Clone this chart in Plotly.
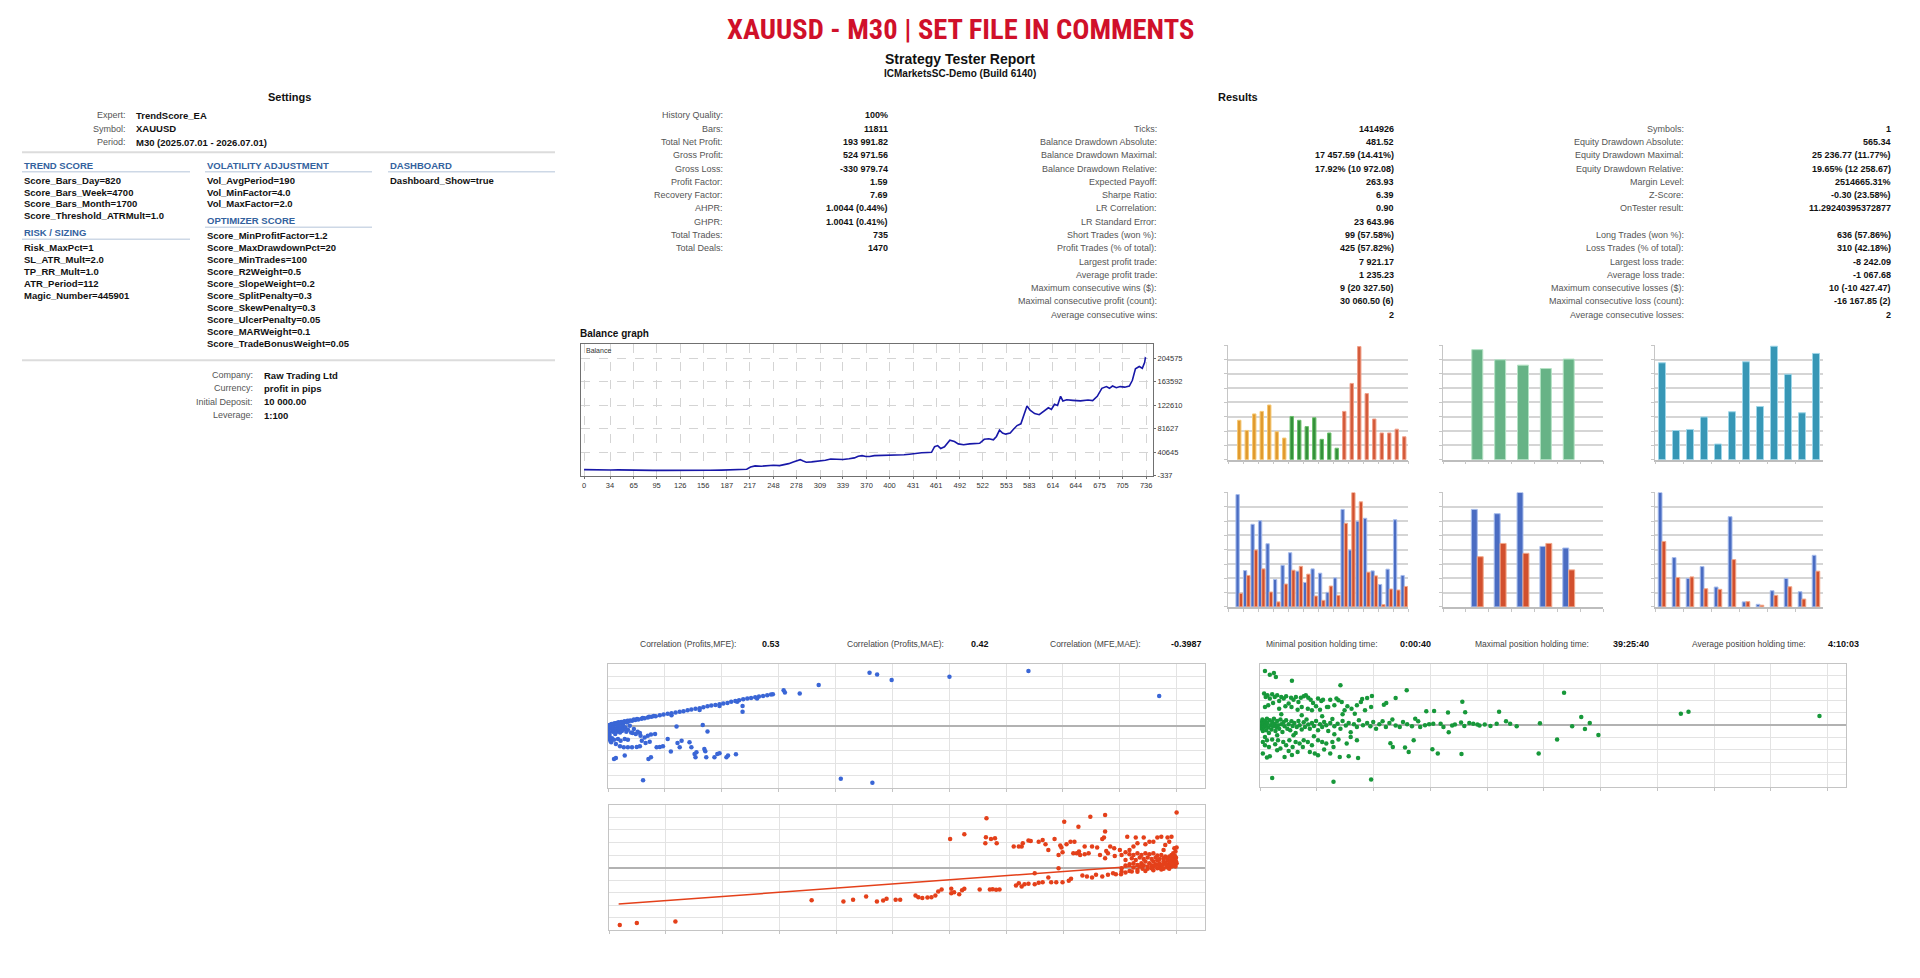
import plotly.graph_objects as go

# page offset of the plot div (default body margin) is compensated below
PAGE_W, PAGE_H = 1920, 978
OFF = 8
W, H = PAGE_W - OFF, PAGE_H - OFF
FONT = "Liberation Sans, Arial, sans-serif"
TITLE_FONT = "Liberation Sans Narrow, Roboto Condensed, Roboto, Liberation Sans, sans-serif"

# ---------------- text data ----------------
report_title = "XAUUSD - M30 | SET FILE IN COMMENTS"
report_subtitle = "Strategy Tester Report"
report_server = "ICMarketsSC-Demo (Build 6140)"

settings_head_labels = ["Expert:", "Symbol:", "Period:"]
settings_head_values = ["TrendScore_EA", "XAUUSD", "M30 (2025.07.01 - 2026.07.01)"]

trend_score_inputs = ["Score_Bars_Day=820", "Score_Bars_Week=4700", "Score_Bars_Month=1700",
                      "Score_Threshold_ATRMult=1.0"]
risk_sizing_inputs = ["Risk_MaxPct=1", "SL_ATR_Mult=2.0", "TP_RR_Mult=1.0", "ATR_Period=112",
                      "Magic_Number=445901"]
volatility_inputs = ["Vol_AvgPeriod=190", "Vol_MinFactor=4.0", "Vol_MaxFactor=2.0"]
optimizer_inputs = ["Score_MinProfitFactor=1.2", "Score_MaxDrawdownPct=20", "Score_MinTrades=100",
                    "Score_R2Weight=0.5", "Score_SlopeWeight=0.2", "Score_SplitPenalty=0.3",
                    "Score_SkewPenalty=0.3", "Score_UlcerPenalty=0.05", "Score_MARWeight=0.1",
                    "Score_TradeBonusWeight=0.05"]
dashboard_inputs = ["Dashboard_Show=true"]

account_labels = ["Company:", "Currency:", "Initial Deposit:", "Leverage:"]
account_values = ["Raw Trading Ltd", "profit in pips", "10 000.00", "1:100"]

results_left_labels = ["History Quality:", "Bars:", "Total Net Profit:", "Gross Profit:", "Gross Loss:",
                       "Profit Factor:", "Recovery Factor:", "AHPR:", "GHPR:", "Total Trades:", "Total Deals:"]
results_left_values = ["100%", "11811", "193 991.82", "524 971.56", "-330 979.74", "1.59", "7.69",
                       "1.0044 (0.44%)", "1.0041 (0.41%)", "735", "1470"]
results_mid_labels = ["Ticks:", "Balance Drawdown Absolute:", "Balance Drawdown Maximal:",
                      "Balance Drawdown Relative:", "Expected Payoff:", "Sharpe Ratio:", "LR Correlation:",
                      "LR Standard Error:", "Short Trades (won %):", "Profit Trades (% of total):",
                      "Largest profit trade:", "Average profit trade:", "Maximum consecutive wins ($):",
                      "Maximal consecutive profit (count):", "Average consecutive wins:"]
results_mid_values = ["1414926", "481.52", "17 457.59 (14.41%)", "17.92% (10 972.08)", "263.93", "6.39",
                      "0.90", "23 643.96", "99 (57.58%)", "425 (57.82%)", "7 921.17", "1 235.23",
                      "9 (20 327.50)", "30 060.50 (6)", "2"]
results_right_labels = ["Symbols:", "Equity Drawdown Absolute:", "Equity Drawdown Maximal:",
                        "Equity Drawdown Relative:", "Margin Level:", "Z-Score:", "OnTester result:", "",
                        "Long Trades (won %):", "Loss Trades (% of total):", "Largest loss trade:",
                        "Average loss trade:", "Maximum consecutive losses ($):",
                        "Maximal consecutive loss (count):", "Average consecutive losses:"]
results_right_values = ["1", "565.34", "25 236.77 (11.77%)", "19.65% (12 258.67)", "2514665.31%",
                        "-0.30 (23.58%)", "11.29240395372877", "", "636 (57.86%)", "310 (42.18%)",
                        "-8 242.09", "-1 067.68", "10 (-10 427.47)", "-16 167.85 (2)", "2"]

correlation_labels = ["Correlation (Profits,MFE):", "Correlation (Profits,MAE):", "Correlation (MFE,MAE):"]
correlation_values = ["0.53", "0.42", "-0.3987"]
holding_labels = ["Minimal position holding time:", "Maximal position holding time:",
                  "Average position holding time:"]
holding_values = ["0:00:40", "39:25:40", "4:10:03"]

# ---------------- balance graph ----------------
balance_xticks = [0, 34, 65, 95, 126, 156, 187, 217, 248, 278, 309, 339, 370, 400, 431, 461, 492,
                  522, 553, 583, 614, 644, 675, 705, 736]
balance_yticks = [-337, 40645, 81627, 122610, 163592, 204575]
balance_points = [
    (0, 10000), (8, 9600), (15, 9900), (25, 9100), (35, 9300), (45, 9700), (55, 9200), (65, 9400),
    (75, 8900), (90, 8700), (105, 8800), (120, 8600), (135, 8900), (150, 8500), (165, 8900),
    (180, 9200), (195, 9800), (205, 10300), (213, 10600), (218, 14500), (224, 16500), (232, 16000),
    (240, 17200), (248, 17800), (256, 17000), (262, 18500), (268, 20500), (274, 23500), (278, 25500),
    (283, 27500), (287, 25000), (291, 23000), (298, 23500), (308, 24500), (316, 26500), (323, 28500),
    (331, 27500), (339, 27800), (347, 29000), (354, 30500), (359, 33500), (364, 34500), (369, 33000),
    (374, 33000), (380, 34500), (388, 34800), (398, 34600), (408, 35200), (419, 36000), (426, 37000),
    (434, 38500), (442, 39500), (450, 40000), (455, 40300), (459, 50000), (463, 52000), (467, 47000),
    (472, 50000), (479, 61500), (485, 59000), (490, 55000), (497, 53500), (505, 55000), (512, 55000),
    (518, 56000), (524, 63000), (530, 64000), (536, 62000), (540, 68000), (544, 79000), (548, 74000),
    (552, 72000), (558, 74000), (562, 80000), (567, 87000), (572, 90000), (576, 105000),
    (580, 121000), (584, 114000), (590, 108000), (596, 106000), (602, 112000), (608, 118000),
    (612, 115000), (616, 124000), (620, 122000), (624, 138000), (627, 130000), (632, 132000),
    (640, 131000), (650, 130000), (660, 131500), (666, 130500), (672, 138000), (678, 152000),
    (684, 155000), (688, 152000), (692, 156000), (697, 153000), (702, 155000), (708, 154000),
    (714, 156000), (718, 166000), (722, 186000), (727, 190000), (731, 187000), (734, 197000),
    (735, 205000), (736, 203992),
]

# ---------------- histograms ----------------
hour_labels = [str(h) for h in range(24)]
weekday_labels = ["Sun", "Mon", "Tue", "Wed", "Thu", "Fri", "Sat"]
month_labels = ["Jan", "Feb", "Mar", "Apr", "May", "Jun", "Jul", "Aug", "Sep", "Oct", "Nov", "Dec"]

entry_hours = hour_labels[1:]
entries_by_hour = [31, 23, 36, 38, 43, 22, 17, 34, 31, 26, 33, 16, 21, 9,
                   38, 60, 89, 52, 32, 21, 21, 24, 18]
entry_weekdays = weekday_labels[1:6]
entries_by_weekday = [163, 148, 140, 135, 149]
entries_by_month = [93, 28, 29, 41, 15, 46, 94, 51, 109, 82, 45, 102]

profit_by_hour = [48260, 15600, 35490, 37020, 27140, 11790, 17870, 23270, 15350, 10500, 16330, 14490,
                  6260, 12460, 41870, 24440, 36780, 38070, 15470, 9640, 16210, 37450, 13510]
loss_by_hour = [5830, 13510, 24440, 16330, 6390, 2150, 9820, 15780, 17440, 14060, 4670, 2820,
                8960, 4970, 35920, 49120, 45130, 14920, 13320, 980, 7680, 7250, 8780]
profit_by_weekday = [120580, 115270, 141440, 74790, 72840]
loss_by_weekday = [62060, 78500, 66300, 78500, 45790]
profit_by_month = [130240, 56170, 32400, 45910, 22630, 102730, 5700, 2930, 18400, 32400, 17260, 58770]
loss_by_month = [74560, 33540, 34190, 20680, 20020, 53890, 6020, 1950, 13190, 22950, 8950, 40700]

# ---------------- scatter: profit vs MFE ----------------
mfe_points = [
    (25, 0), (63, 96), (100, 144), (126, 192), (164, 192), (200, 240), (250, 290), (300, 340), (350, 380),
    (400, 430), (450, 480), (500, 530), (580, 580), (650, 670), (760, 720), (860, 820), (960, 910),
    (1060, 1010), (1160, 1100), (1260, 1200), (1380, 1300), (1510, 1390), (1640, 1540), (1760, 1630),
    (1890, 1730), (2010, 1820), (2140, 1920), (2270, 2020), (2390, 2110), (2520, 2260), (2640, 2350),
    (2770, 2450), (2900, 2540), (3020, 2690), (3150, 2830), (3270, 2930), (3400, 3020), (3530, 3120),
    (3650, 3220), (3780, 3310), (3900, 3460), (4030, 3600), (4150, 3700), (4280, 3840), (4410, 3940),
    (4530, 4030), (4660, 4130), (4780, 4220), (4910, 4320), (5040, 4420), (5160, 4510), (5220, 4560),
    (2010, 1540), (2900, 2300), (3530, 2880), (4090, 3460), (4720, 3940),
    (80, 150), (120, 250), (180, 300), (220, 380), (280, 420), (330, 500), (420, 560), (520, 640),
    (620, 720), (700, 780), (820, 900), (920, 980), (1100, 1120), (1300, 1320), (1450, 1420),
    (40, 60), (150, 100), (260, 200), (380, 300), (480, 380), (600, 480),
    (25, -240), (25, -580), (40, -960), (50, -1340), (60, -1730), (25, -1920), (75, -2160),
    (100, -100), (126, -480), (150, -860), (176, -240), (200, -720), (230, -1200), (250, -380),
    (280, -860), (315, -100), (350, -580), (380, -960), (400, -240), (440, -770), (480, 0),
    (500, -480), (550, -240), (580, -860), (630, -580), (690, 0), (730, -960), (780, -1060),
    (820, -480), (880, -1200), (940, -860), (1010, -1060), (1030, -1440), (126, -1820), (190, -2020),
    (315, -1920), (400, -2160), (530, -1920), (630, -2020), (100, -2400), (250, -2640), (380, -2980),
    (500, -3120), (630, -3120), (760, -3120), (910, -3070), (1010, -2980), (1070, -2160),
    (1160, -1680), (1260, -1440), (1360, -1250), (1490, -1200), (1320, -2300), (1190, -2500),
    (190, -4800), (250, -4660), (530, -4320), (1280, -4800), (1360, -4560), (1540, -3120),
    (1640, -3070), (1740, -2980), (1890, -1920), (1990, -3740), (2200, -2500), (2270, -3120),
    (2330, -2160), (2580, -2400), (2640, -3120), (2740, -4080), (2770, -4560), (2800, -3840),
    (3050, -3360), (3080, -3700), (3110, -4560), (3370, -4560), (3460, -4080), (3530, -3980),
    (3750, -4560), (3800, -4320), (4050, -4130), (2170, -100), (3000, 100), (3150, -820),
    (4260, 2880), (4260, 2020), (5560, 5140), (5600, 4800), (6070, 4660), (6670, 5900),
    (8280, 7680), (8520, 7440), (8980, 6620), (10810, 7100), (13310, 7921), (17450, 4320),
    (1110, -7870), (7370, -7680), (8370, -8242),
]

# ---------------- scatter: profit vs holding time (hours) ----------------
holding_points = [
    (0.29, 4620), (0.40, 4130), (0.52, 4370), (0.69, 3890), (0.86, 4520), (1.04, 4130), (1.21, 4370),
    (1.35, 3550), (1.50, 4130), (1.67, 3890), (1.84, 4230), (2.02, 3160), (2.19, 4030), (2.36, 3740),
    (2.53, 4130), (2.71, 3400), (2.88, 4030), (3.08, 4230), (3.23, 4370), (3.40, 4030), (3.57, 3740),
    (3.74, 3260), (3.95, 2770), (4.09, 3890), (4.32, 3550), (4.44, 3740), (4.72, 2670), (4.95, 3740),
    (5.24, 2920), (5.39, 3890), (5.53, 3650), (5.76, 3400), (5.96, 2190), (6.16, 2770), (6.45, 2430),
    (6.83, 2920), (7.11, 3400), (7.40, 2190), (0.35, 2670), (0.58, 2920), (0.92, 3260), (1.35, 2430),
    (1.79, 2770), (2.22, 2670), (2.65, 2280), (2.94, 2670), (3.37, 2430), (3.66, 2190), (4.23, 2280),
    (4.81, 2670),
    (0.06, 0), (0.12, 490), (0.12, -490), (0.17, 830), (0.20, -830), (0.26, 240), (0.29, -240),
    (0.35, 630), (0.40, 0), (0.43, -730), (0.49, 970), (0.52, 340), (0.58, -340), (0.63, -1120),
    (0.69, 730), (0.75, 0), (0.81, -630), (0.86, 490), (0.92, -150), (0.98, 970), (1.04, 240),
    (1.09, -830), (1.15, -240), (1.21, 630), (1.27, 0), (1.35, -490), (1.44, 830), (1.50, 150),
    (1.58, -970), (1.67, 490), (1.73, -150), (1.84, 730), (1.93, -490), (2.02, 150), (2.13, -730),
    (2.22, 580), (2.30, -100), (2.42, 340), (2.51, -1120), (2.59, -240), (2.71, 630), (2.79, 0),
    (2.94, -630), (3.08, 440), (3.17, -240), (3.28, 830), (3.40, 100), (3.51, -490), (3.66, 340),
    (3.80, -100), (3.95, 630), (4.09, -730), (4.23, 150), (4.38, -240), (4.52, 490), (4.67, 0),
    (4.81, -830), (4.95, 340), (5.10, 920), (5.24, -150), (5.47, 240), (5.67, -490), (5.82, 630),
    (6.05, -50), (6.25, 340), (6.39, -1020), (6.62, 150), (6.83, -240), (6.97, 730), (7.26, 0),
    (7.55, 340), (7.78, -150), (7.98, 490), (8.18, -490), (8.41, 150), (8.64, 580), (8.87, -240),
    (9.12, 340), (9.33, 830), (9.56, -50), (9.85, -240), (10.08, 490), (10.37, 150), (10.71, -150),
    (10.94, 970), (11.29, -240), (11.63, 0), (11.92, 150), (12.73, 240), (12.93, -240), (13.74, 100),
    (14.40, -100), (14.75, 340), (15.47, -50), (15.84, 100),
    (1.50, 1600), (2.94, 1460), (4.38, 1310), (5.82, 1600), (6.68, 1700), (2.36, -1460),
    (3.80, -1600), (5.24, -1310), (6.39, -1700), (0.35, -1700), (1.21, -1460),
    (0.20, -2430), (0.35, -2920), (0.49, -2190), (0.63, -3160), (0.86, -2090), (1.07, -2770),
    (1.27, -2190), (1.44, -3400), (1.64, -2430), (1.84, -2920), (2.07, -2190), (2.30, -3160),
    (2.51, -2430), (2.79, -2670), (3.08, -2190), (3.37, -2430), (3.66, -2920), (4.09, -2190),
    (4.38, -2430), (4.67, -2670), (5.10, -2430), (5.53, -2090), (6.11, -2670), (6.83, -2190),
    (0.20, -4130), (0.49, -4710), (0.69, -4520), (1.21, -3650), (2.02, -3740), (2.65, -3890),
    (3.51, -3890), (4.52, -3550),
    (39.43, 1360), (30.2, 1990), (29.66, 1700), (21.43, 4760), (22.64, 1220), (23.24, 340),
    (22.0, -150), (22.9, -530), (23.85, -1410), (20.94, -2090), (19.64, -4130), (19.73, 290),
    (18.09, -150), (17.63, 240), (17.34, 580), (16.85, 1990), (16.68, 240), (16.24, -100),
    (15.32, 100), (15.03, 240), (14.46, 1900), (14.26, 3450), (14.17, 390), (14.2, -4180),
    (13.25, 1850), (13.3, -1020), (13.54, -50), (12.53, -4130), (12.27, 2090), (12.15, -3500),
    (12.21, 240), (11.72, 2040), (11.15, 580), (10.34, 5100), (10.48, -3890), (10.22, -3260),
    (10.83, -2190), (9.56, 3990), (9.36, -3160), (9.19, -2620), (8.73, 3010), (8.9, 3260),
    (7.89, 4280), (7.83, 2670), (7.55, 3990), (7.2, 3840), (7.83, -7920), (6.91, -4760),
    (6.25, -4520), (5.67, 5830), (5.62, -4620), (5.18, -8242), (5.18, -3160), (4.95, -4130),
    (4.09, -4370), (3.86, -4130), (3.02, -3160), (2.25, -4330), (2.25, 6510), (1.73, -4620),
    (0.86, -7680), (0.35, 7921), (0.69, 7390), (0.98, 7630), (1.12, 7050),
]

# ---------------- scatter: profit vs MAE ----------------
mae_points = [
    (-9810, -8242), (-9510, -7970), (-8830, -7740),
    (-6430, -4680), (-5870, -4870), (-5700, -4630), (-5470, -4150), (-5280, -4870), (-5170, -4730),
    (-5110, -4490), (-4950, -4630), (-4870, -4630), (-4600, -4010), (-4550, -4250), (-4480, -4390),
    (-4390, -4300), (-4320, -4250), (-4250, -4010), (-4200, -3440), (-4140, -3150), (-3970, -3060),
    (-3970, -3680), (-3920, -3530), (-3830, -3820), (-3780, -3250), (-3740, -3060), (-3470, -3150),
    (-3290, -3150), (-3240, -3100), (-3180, -3200), (-3120, -3150), (-2830, -2580), (-2780, -2240),
    (-2730, -2720), (-2680, -2390), (-2610, -2340), (-2500, -2390), (-2500, -810), (-2430, -2200),
    (-2360, -2100), (-2260, -1430), (-2210, -2100), (-2120, -2100), (-2080, -100), (-2010, -2100),
    (-1900, -1910), (-1860, -1620), (-1660, -1150), (-1580, -1290), (-1490, -1430), (-1420, -1050),
    (-1310, -1290), (-1210, -1050), (-1120, -810), (-1070, -950), (-980, -950), (-900, -720),
    (-790, -570), (-690, -330), (-600, -190), (-510, -190), (-440, -100), (-340, -100), (-270, 0),
    (-180, 100), (-130, 190), (-60, 290), (-20, 480),
    (-900, 290), (-830, 480), (-760, 620), (-690, 380), (-620, 620), (-580, 290), (-550, 860),
    (-480, 620), (-440, 290), (-410, 860), (-370, 480), (-340, 1050), (-300, 620), (-270, 290),
    (-230, 860), (-200, 620), (-160, 1050), (-130, 620), (-90, 950), (-60, 760), (-40, 1100),
    (-20, 140), (-10, 860), (0, 620), (-90, 140), (-160, 0), (-230, -190), (-300, 0), (-410, 140),
    (-510, 140), (-650, 140), (-760, 0), (-970, -100), (-130, 1580), (-90, 1810), (-60, 2050),
    (-20, 2290), (-40, 2770), (0, 2870), (-200, 1580), (-270, 1810), (-340, 1720), (-410, 2050),
    (-480, 1910), (-550, 2050), (-620, 1810), (-690, 2050), (-760, 1810), (-830, 1910), (-900, 2200),
    (-970, 1810), (-900, 1100), (-790, 1340), (-720, 1100), (-650, 1430), (-580, 1240), (-510, 1430),
    (-440, 1240), (-370, 1430), (-300, 1240), (-230, 1340), (-160, 1190), (-90, 1340), (-230, 2530),
    (-200, 3250), (-130, 3720), (-90, 4440), (-160, 4300), (-270, 4440), (-340, 4300), (-410, 3720),
    (-480, 3720), (-550, 3340), (-580, 4300), (-690, 3490), (-760, 3010), (-830, 2530), (-870, 4440),
    (-720, 4300), (-1000, 2530), (-1090, 1670), (-1100, 2770), (-1170, 3010), (-1260, 1340),
    (-1280, 4300), (-1260, 5160), (-1310, 4110), (-1350, 1810), (-1240, 2390), (-1210, 2050),
    (-1400, 2870), (-1490, 3010), (-1520, 7310), (-1260, 7540), (-1730, 5870), (-1720, 2290),
    (-1760, 2050), (-1700, 1810), (-1620, 1910), (-1550, 2050), (-1620, 3010), (-1800, 3720),
    (-1820, 2050), (-1870, 3720), (-1940, 3340), (-1980, 6590), (-2010, 2200), (-2050, 3150),
    (-2030, 2870), (-2080, 1810), (-2150, 4110), (-2310, 3340), (-2360, 3960), (-2430, 3720),
    (-2260, 2530), (-2570, 3820), (-2610, 3870), (-2710, 3490), (-2730, 3010), (-2780, 3010),
    (-2870, 3010), (-3350, 7070), (-3270, 4110), (-3360, 4350), (-3370, 3490), (-3170, 3490),
    (-3200, 4200), (-3740, 4780), (-3990, 4110), (0, 7921),
    (-970, -570), (-830, -480), (-690, -620), (-550, -480), (-410, -380), (-270, -290), (-130, -190),
    (-30, 380), (-50, 520), (-70, 210), (-110, 430), (-150, 330), (-190, 500), (-250, 380),
    (-320, 450), (-380, 290), (-20, 950), (-50, 1250), (-80, 620), (-120, 860), (-10, 1400),
    (-30, 1650),
]
mae_trend_x = [-9830, -550]
mae_trend_y = [-5250, 290]

# ---------------- helpers ----------------
def X(p):
    return (p - OFF) / W


def Y(p):
    return 1 - (p - OFF) / H


ann = []
shapes = []


def text(x, y, s, anchor="left", size=9, color="#222222", bold=False, family=FONT):
    ann.append(dict(x=X(x), y=Y(y), xref="paper", yref="paper",
                    text=f"<b>{s}</b>" if bold else s, showarrow=False,
                    xanchor=anchor, yanchor="middle",
                    font=dict(size=size, color=color, family=family)))


def hline(x0, x1, y, color, width):
    shapes.append(dict(type="line", xref="paper", yref="paper", x0=X(x0), x1=X(x1),
                       y0=Y(y), y1=Y(y), line=dict(color=color, width=width)))


LABEL = "#555555"
VALUE = "#111111"
HEAD = "#33629e"

# ---------------- header ----------------
text(960, 30, report_title, "center", 28.5, "#d0102a", True, TITLE_FONT)
text(960, 59, report_subtitle, "center", 14, "#111111", True)
text(960, 74, report_server, "center", 10, "#111111", True)

# ---------------- settings ----------------
text(289, 97, "Settings", "center", 11, "#111111", True)
for i, (lab, val) in enumerate(zip(settings_head_labels, settings_head_values)):
    yy = 116 + i * 13.4
    text(128, yy, lab, "right", 9, LABEL)
    text(134, yy, val, "left", 9.5, VALUE, True)
hline(22, 555, 153, "#dcdcdc", 2)


def group(x, w, y_head, title, items):
    text(x, y_head, title, "left", 9.5, HEAD, True)
    hline(x, x + w, y_head + 6.5, "#cdd8e6", 1.5)
    for k, it in enumerate(items):
        text(x, y_head + 15 + k * 12, it, "left", 9.5, VALUE, True)


group(22, 168, 166, "TREND SCORE", trend_score_inputs)
group(22, 168, 234, "RISK / SIZING", risk_sizing_inputs)
group(205, 167, 166, "VOLATILITY ADJUSTMENT", volatility_inputs)
group(205, 167, 222, "OPTIMIZER SCORE", optimizer_inputs)
group(388, 167, 166, "DASHBOARD", dashboard_inputs)
hline(22, 555, 362, "#dcdcdc", 2)
for i, (lab, val) in enumerate(zip(account_labels, account_values)):
    yy = 377 + i * 13.4
    text(255, yy, lab, "right", 9, LABEL)
    text(262, yy, val, "left", 9.5, VALUE, True)

# ---------------- results ----------------
text(1238, 97, "Results", "center", 11, "#111111", True)
ROW0, DROW = 116, 13.35
for i, (lab, val) in enumerate(zip(results_left_labels, results_left_values)):
    text(725, ROW0 + i * DROW, lab, "right", 9, LABEL)
    text(890, ROW0 + i * DROW, val, "right", 9, VALUE, True)
for i, (lab, val) in enumerate(zip(results_mid_labels, results_mid_values)):
    text(1159, ROW0 + (i + 1) * DROW, lab, "right", 9, LABEL)
    text(1396, ROW0 + (i + 1) * DROW, val, "right", 9, VALUE, True)
for i, (lab, val) in enumerate(zip(results_right_labels, results_right_values)):
    if lab:
        text(1686, ROW0 + (i + 1) * DROW, lab, "right", 9, LABEL)
        text(1893, ROW0 + (i + 1) * DROW, val, "right", 9, VALUE, True)

# correlation / holding headers
for lab, val, xl, xv in zip(correlation_labels, correlation_values, [738, 946, 1143], [782, 991, 1204]):
    text(xl, 647, lab, "right", 8.5, "#444444")
    text(xv, 647, val, "right", 9, VALUE, True)
for lab, val, xl, xv in zip(holding_labels, holding_values, [1380, 1591, 1808], [1433, 1651, 1861]):
    text(xl, 647, lab, "right", 8.5, "#444444")
    text(xv, 647, val, "right", 9, VALUE, True)

text(578, 335, "Balance graph", "left", 10, "#111111", True)
text(584, 352, "Balance", "left", 7, "#333333")

# ---------------- figure ----------------
fig = go.Figure()
layout = {}

bx, bv = map(list, zip(*balance_points))
fig.add_trace(go.Scatter(x=bx, y=bv, mode="lines", line=dict(color="#1818a8", width=1.6),
                         xaxis="x", yaxis="y", hoverinfo="skip", showlegend=False))
layout["xaxis"] = dict(domain=[X(581), X(1153)], anchor="y", range=[-4, 745], tickmode="array",
                       tickvals=balance_xticks, ticktext=[str(v) for v in balance_xticks],
                       tickfont=dict(size=7.5, color="#333333", family=FONT), showgrid=True,
                       gridcolor="#d4d4d4", griddash="dash", gridwidth=1, showline=True, mirror=True,
                       linecolor="#707070", linewidth=1, ticks="outside", ticklen=2,
                       tickcolor="#707070", zeroline=False, fixedrange=True)
layout["yaxis"] = dict(domain=[Y(478), Y(346)], anchor="x", side="right", range=[-337, 228900],
                       tickmode="array", tickvals=balance_yticks,
                       ticktext=[str(v) for v in balance_yticks],
                       tickfont=dict(size=7.5, color="#333333", family=FONT), showgrid=True,
                       gridcolor="#d4d4d4", griddash="dash", gridwidth=1, showline=True, mirror=True,
                       linecolor="#707070", linewidth=1, ticks="outside", ticklen=2,
                       tickcolor="#707070", zeroline=False, fixedrange=True)


def hist_axes(n, x0, x1, y0, y1, cats, top, dtick):
    layout[f"xaxis{n}"] = dict(domain=[X(x0), X(x1)], anchor=f"y{n}", type="category",
                               categoryorder="array", categoryarray=cats,
                               range=[-0.5, len(cats) - 0.5], showticklabels=False, ticks="outside",
                               tickson="boundaries", ticklen=3, tickcolor="#c6c6c6", showline=True,
                               linecolor="#bdbdbd", linewidth=1.5, showgrid=False, fixedrange=True)
    layout[f"yaxis{n}"] = dict(domain=[Y(y1), Y(y0)], anchor=f"x{n}", range=[0, top * 1.0005],
                               tick0=0, dtick=dtick, showticklabels=False, showgrid=True,
                               gridcolor="#d5d5d5", gridwidth=1.5, showline=True, linecolor="#c6c6c6",
                               ticks="outside", ticklen=3, tickcolor="#c6c6c6", zeroline=False,
                               fixedrange=True)


TOP0, TOP1 = 347, 462
BOT0, BOT1 = 495, 610
hist_axes(2, 1228, 1408, TOP0, TOP1, hour_labels, 90, 11.25)
hist_axes(3, 1443, 1603, TOP0, TOP1, weekday_labels, 169.4, 21.175)
hist_axes(4, 1655, 1823, TOP0, TOP1, month_labels, 109.8, 13.725)
hist_axes(5, 1228, 1408, BOT0, BOT1, hour_labels, 49120, 6140)
hist_axes(6, 1443, 1603, BOT0, BOT1, weekday_labels, 141440, 17680)
hist_axes(7, 1655, 1823, BOT0, BOT1, month_labels, 130240, 16280)


def session_color(h, c_asia, c_europe, c_us):
    h = int(h)
    return c_asia if h <= 7 else (c_europe if h <= 14 else c_us)


hour_fill = [session_color(h, "#e09a2e", "#34903a", "#d35a3a") for h in entry_hours]
hour_edge = [session_color(h, "#f6c873", "#6cc06c", "#f1a08a") for h in entry_hours]

fig.add_trace(go.Bar(x=entry_hours, y=entries_by_hour, width=0.45,
                     marker=dict(color=hour_fill, line=dict(color=hour_edge, width=1)),
                     xaxis="x2", yaxis="y2", hoverinfo="skip", showlegend=False))
fig.add_trace(go.Bar(x=entry_weekdays, y=entries_by_weekday, width=0.48,
                     marker=dict(color="#67b386", line=dict(color="#b4e2c4", width=1)),
                     xaxis="x3", yaxis="y3", hoverinfo="skip", showlegend=False))
fig.add_trace(go.Bar(x=month_labels, y=entries_by_month, width=0.5,
                     marker=dict(color="#3797b6", line=dict(color="#9ed6e8", width=1)),
                     xaxis="x4", yaxis="y4", hoverinfo="skip", showlegend=False))

BLUE_FILL, BLUE_EDGE = "#4a6cc2", "#a7bdec"
RED_FILL, RED_EDGE = "#d2502e", "#f2a88a"
for n, cats, prof, loss, w in [(5, entry_hours, profit_by_hour, loss_by_hour, 0.44),
                               (6, entry_weekdays, profit_by_weekday, loss_by_weekday, 0.26),
                               (7, month_labels, profit_by_month, loss_by_month, 0.27)]:
    fig.add_trace(go.Bar(x=cats, y=prof, width=w, offset=-w,
                         marker=dict(color=BLUE_FILL, line=dict(color=BLUE_EDGE, width=1)),
                         xaxis=f"x{n}", yaxis=f"y{n}", hoverinfo="skip", showlegend=False))
    fig.add_trace(go.Bar(x=cats, y=loss, width=w, offset=0,
                         marker=dict(color=RED_FILL, line=dict(color=RED_EDGE, width=1)),
                         xaxis=f"x{n}", yaxis=f"y{n}", hoverinfo="skip", showlegend=False))


def scatter_axes(n, x0, x1, y0, y1, xr, xd, x_tick0):
    common = dict(showticklabels=False, showgrid=True, gridcolor="#e3e3e3", gridwidth=1,
                  showline=True, mirror=True, linecolor="#c4c4c4", linewidth=1, fixedrange=True)
    layout[f"xaxis{n}"] = dict(domain=[X(x0), X(x1)], anchor=f"y{n}", range=xr, tick0=x_tick0,
                               dtick=xd, ticks="outside", ticklen=3, tickcolor="#c4c4c4",
                               zeroline=False, **common)
    layout[f"yaxis{n}"] = dict(domain=[Y(y1), Y(y0)], anchor=f"x{n}", range=[-9000, 9000], tick0=0,
                               dtick=1800, zeroline=True, zerolinecolor="#b2b2b2", zerolinewidth=1.5,
                               **common)


scatter_axes(8, 608, 1205, 667, 792, [0, 18900], 1800, 0)
scatter_axes(9, 1260, 1846, 667, 791, [0, 41.3], 4, 0)
scatter_axes(10, 609, 1205, 809, 935, [-10000, 500], 1000, 0)

mx, my = map(list, zip(*mfe_points))
fig.add_trace(go.Scatter(x=mx, y=my, mode="markers", marker=dict(size=4.5, color="#3a66d6"),
                         xaxis="x8", yaxis="y8", hoverinfo="skip", showlegend=False))
hx, hy = map(list, zip(*holding_points))
fig.add_trace(go.Scatter(x=hx, y=hy, mode="markers", marker=dict(size=4.5, color="#17983a"),
                         xaxis="x9", yaxis="y9", hoverinfo="skip", showlegend=False))
ax_, ay_ = map(list, zip(*mae_points))
fig.add_trace(go.Scatter(x=mae_trend_x, y=mae_trend_y, mode="lines",
                         line=dict(color="#e4401a", width=1.5),
                         xaxis="x10", yaxis="y10", hoverinfo="skip", showlegend=False))
fig.add_trace(go.Scatter(x=ax_, y=ay_, mode="markers", marker=dict(size=4.5, color="#e4401a"),
                         xaxis="x10", yaxis="y10", hoverinfo="skip", showlegend=False))

fig.update_layout(width=W, height=H, autosize=False, margin=dict(l=0, r=0, t=0, b=0, pad=0),
                  paper_bgcolor="white", plot_bgcolor="white", showlegend=False, hovermode=False,
                  barmode="overlay", annotations=ann, shapes=shapes,
                  font=dict(family=FONT, size=9, color="#222222"), **layout)

fig.write_html("out.html", config={"displayModeBar": False, "responsive": False})
